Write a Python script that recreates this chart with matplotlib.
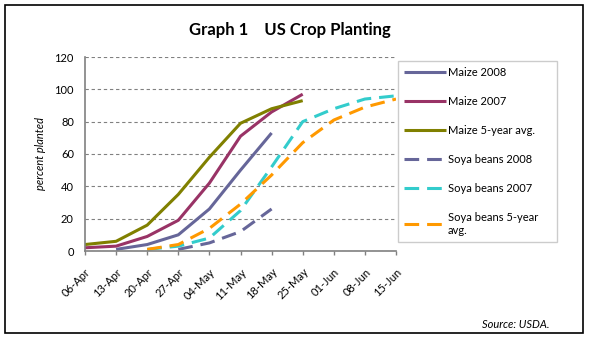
import numpy as np
import matplotlib.pyplot as plt
from matplotlib.patches import Rectangle

plt.rcParams['font.family'] = ['Lato', 'DejaVu Sans']

nan = np.nan
weeks = ['06-Apr', '13-Apr', '20-Apr', '27-Apr', '04-May', '11-May',
         '18-May', '25-May', '01-Jun', '08-Jun', '15-Jun']

# percent planted per week
maize_2008 = [nan, 1, 4, 10, 26, 50, 73, nan, nan, nan, nan]
maize_2007 = [2, 3, 9, 19, 42, 71, 86, 97, nan, nan, nan]
maize_avg = [4, 6, 16, 35, 58, 79, 88, 93, nan, nan, nan]
soya_2008 = [nan, nan, nan, 1, 5, 12, 26, nan, nan, nan, nan]
soya_2007 = [nan, nan, 1, 3, 8, 25, 52, 80, 88, 94, 96]
soya_avg = [nan, nan, 1, 4, 14, 29, 47, 67, 81, 89, 94]

W, H = 589, 339
fig = plt.figure(figsize=(W / 100, H / 100), dpi=100)
ax = fig.add_axes([85 / W, 88 / H, 311 / W, 194 / H])

x = np.arange(len(weeks))
lw = 2.2
dash = (0, (4.8, 2.6))
series = [
    (maize_2008, 'Maize 2008', '#666699', '-'),
    (maize_2007, 'Maize 2007', '#993366', '-'),
    (maize_avg, 'Maize 5-year avg.', '#808000', '-'),
    (soya_2008, 'Soya beans 2008', '#666699', dash),
    (soya_2007, 'Soya beans 2007', '#33CCCC', dash),
    (soya_avg, 'Soya beans 5-year\navg.', '#FF9900', dash),
]
for vals, name, col, ls in series:
    ax.plot(x, vals, color=col, lw=lw, ls=ls, label=name,
            solid_capstyle='butt', dash_capstyle='butt')

ax.set_xlim(0, len(weeks) - 1)
ax.set_ylim(0, 120)
ax.set_yticks(range(0, 121, 20))
ax.set_xticks(x)
ax.set_xticklabels(weeks, rotation=45, ha='right', rotation_mode='anchor',
                   fontsize=8)
ax.tick_params(axis='y', length=0, pad=8, labelsize=8)
ax.tick_params(axis='x', length=3, width=1, color='#808080', pad=8)
ax.yaxis.grid(True, color='#808080', ls=(0, (3, 2.5)), lw=0.8)
ax.set_axisbelow(True)
for s in ['top', 'right']:
    ax.spines[s].set_visible(False)
for s in ['left', 'bottom']:
    ax.spines[s].set_color('#808080')
    ax.spines[s].set_linewidth(1.2)

ax.set_ylabel('percent planted', fontsize=8, style='italic', labelpad=6)

leg = ax.legend(loc='upper left', bbox_to_anchor=(398 / W, 1 - 64 / H, 159 / W, 0.01),
                bbox_transform=fig.transFigure, mode='expand', borderaxespad=0,
                fontsize=8, frameon=True, fancybox=False, handlelength=3.8,
                handletextpad=0.15, labelspacing=1.62, borderpad=0.55)
leg.get_frame().set_edgecolor('#c0c0c0')
leg.get_frame().set_linewidth(1)

fig.text(290 / W, 1 - 30 / H, 'Graph 1    US Crop Planting', ha='center',
         va='center', fontsize=12, fontweight='bold')
fig.text(550 / W, 1 - 325 / H, 'Source: USDA.', ha='right', va='center',
         fontsize=8, style='italic')

# outer frame
fig.patches.append(Rectangle((5 / W, 6 / H), 578 / W, 328 / H, fill=False,
                             ec='black', lw=1.2, transform=fig.transFigure))

fig.savefig('out.png', dpi=100)
